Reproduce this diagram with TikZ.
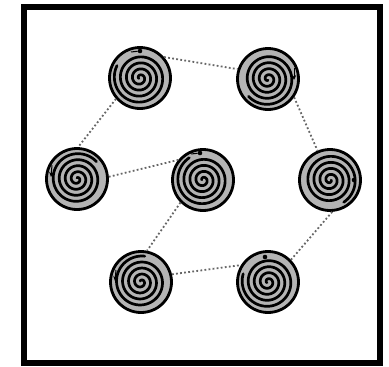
\documentclass[tikz,border=0pt]{standalone}
\usetikzlibrary{arrows.meta}
\definecolor{spiralgray}{HTML}{B4B4B4}
\definecolor{dotgray}{HTML}{666666}
\begin{document}
\begin{tikzpicture}[x=1pt,y=-1pt,
  spot/.style={circle,minimum size=61pt,inner sep=0pt,fill=spiralgray,draw=black,line width=2.8pt},
  conn/.style={draw=dotgray,line width=1.8pt,dash pattern=on 1.8pt off 2.3pt},
  spiralline/.style={line width=2.7pt,line cap=round},
  dotmark/.style={circle,fill=black,inner sep=0pt,minimum size=4.6pt},
  tipmark/.style={-{Stealth[length=5pt,width=4.5pt]},line width=1pt}]
\useasboundingbox (0,0) rectangle (389,367);
\draw[line width=6pt] (24,7) rectangle (380,363);
\foreach \n/\px/\py/\rr in {A/140/78/90, B/268/79/20, C/77/179/200, D/203/180/120, E/330/180/300, F/141/282/160, G/268/282/80}{
  \node[spot] (\n) at (\px,\py) {};
  \draw[spiralline] plot[domain=1.2:27.2,samples=320,smooth]
    ({\px+0.96*\x*cos(\x r+\rr)},{\py+0.96*\x*sin(\x r+\rr)});
}
% dotted connectors
\draw[conn] (A.41) -- (B.162);
\draw[conn] (A.221) -- (C.88);
\draw[conn] (C.4) -- (D.141);
\draw[conn] (D.225) -- (F.79);
\draw[conn] (B.-35) -- (E.113);
\draw[conn] (E.-86) -- (G.44);
\draw[conn] (F.14) -- (G.148);
% markers
\node[dotmark] (dA) at (140,51) {};
\node[dotmark] (dD) at (200,153) {};
\node[dotmark] (dE) at (354,180) {};
\node[dotmark] (dG) at (265,257) {};
\coordinate (aA) at (131,52);
\draw[line width=1pt] (dA) -- (aA);
\coordinate (bB1) at (294,68);
\coordinate (bB2) at (294,80);
\draw[tipmark] (bB1) -- (bB2);
\coordinate (cC1) at (52,165);
\coordinate (cC2) at (51,177);
\draw[tipmark] (cC1) -- (cC2);
\coordinate (fF1) at (116,270);
\coordinate (fF2) at (115,281);
\draw[tipmark] (fF1) -- (fF2);
\coordinate (aD) at (191,154);
\draw[line width=1pt] (dD) -- (aD);
\end{tikzpicture}
\end{document}
